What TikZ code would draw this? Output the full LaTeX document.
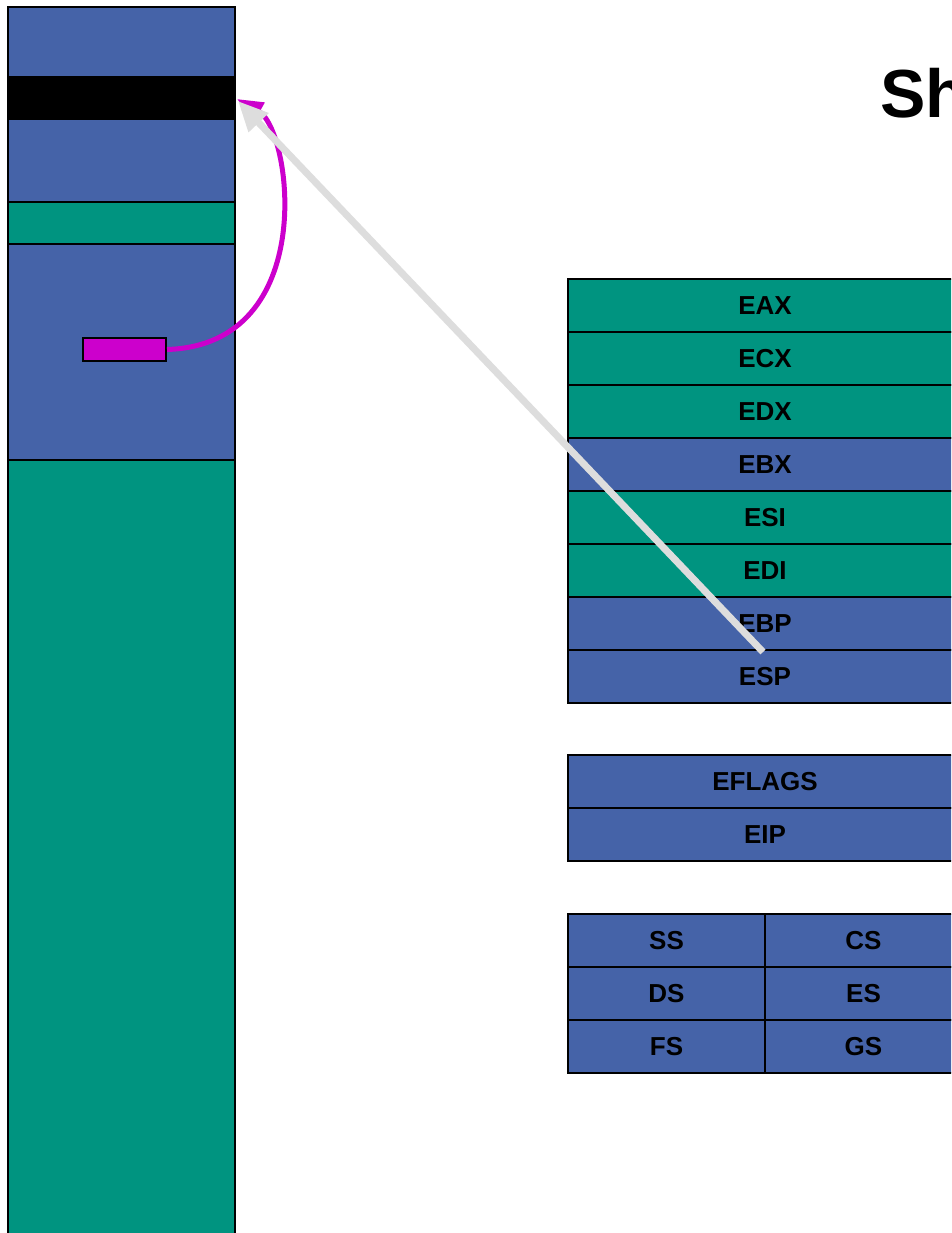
\documentclass[tikz,border=0pt]{standalone}
\usepackage{fontspec}
\usetikzlibrary{arrows.meta}
\newfontfamily\regfont{Liberation Sans}
\definecolor{regblue}{RGB}{69,99,168}
\definecolor{reggreen}{RGB}{0,148,128}
\definecolor{ptrmag}{RGB}{204,0,204}
\definecolor{ptrgrey}{RGB}{221,221,221}
\begin{document}
\begin{tikzpicture}[x=1pt,y=-1pt,
  seg/.style={draw=black, line width=2.5pt, rectangle, inner sep=0pt, outer sep=0pt,
              anchor=north west, minimum width=227pt},
  cell/.style={draw=black, line width=2.5pt, rectangle, inner sep=0pt, outer sep=0pt,
               anchor=north west, minimum height=53pt,
               font=\regfont\bfseries\fontsize{26}{30}\selectfont},
  wide/.style={cell, minimum width=394pt},
  half/.style={cell, minimum width=197pt},
  blue/.style={fill=regblue},
  green/.style={fill=reggreen}]
\useasboundingbox (0,0) rectangle (951,1233);
\clip (0,0) rectangle (951,1233);

% memory stack column
\node[seg, blue,  minimum height=70pt]  (m1) at (8,7)   {};
\node[seg, fill=black, minimum height=42pt] (m2) at (8,77) {};
\node[seg, blue,  minimum height=83pt]  (m3) at (8,119) {};
\node[seg, green, minimum height=42pt]  (m4) at (8,202) {};
\node[seg, blue,  minimum height=216pt] (m5) at (8,244) {};
\node[seg, green, minimum height=860pt] (m6) at (8,460) {};

% pointer held on the stack
\node[draw=black, line width=2pt, fill=ptrmag, rectangle, inner sep=0pt,
      minimum width=83pt, minimum height=23pt, anchor=north west] (ptr) at (82,337) {};

% general purpose registers
\node[wide, green] (eax) at (568,279) {EAX};
\node[wide, green] (ecx) at (568,332) {ECX};
\node[wide, green] (edx) at (568,385) {EDX};
\node[wide, blue]  (ebx) at (568,438) {EBX};
\node[wide, green] (esi) at (568,491) {ESI};
\node[wide, green] (edi) at (568,544) {EDI};
\node[wide, blue]  (ebp) at (568,597) {EBP};
\node[wide, blue]  (esp) at (568,650) {ESP};

% flags and instruction pointer
\node[wide, blue] (eflags) at (568,755) {EFLAGS};
\node[wide, blue] (eip)    at (568,808) {EIP};

% segment registers
\node[half, blue] (ss) at (568,914)  {SS};
\node[half, blue] (cs) at (765,914)  {CS};
\node[half, blue] (ds) at (568,967)  {DS};
\node[half, blue] (es) at (765,967)  {ES};
\node[half, blue] (fs) at (568,1020) {FS};
\node[half, blue] (gs) at (765,1020) {GS};

% title
\node[anchor=base west, inner sep=0pt, font=\regfont\bfseries\fontsize{68}{80}\selectfont]
  (title) at (880,118) {Sh};

% saved pointer referring back up the stack
\coordinate (magtip) at (237,99);
\draw[ptrmag, line width=5pt, -{Triangle[length=26pt,width=20pt]}]
  (ptr.east) .. controls (320,345) and (292,130) .. (magtip);

% stack pointer
\coordinate (espsrc) at (763,652);
\coordinate (greytip) at (238,101);
\draw[ptrgrey, line width=7pt, -{Triangle[length=30pt,width=26pt]}]
  (espsrc) -- (greytip);
\end{tikzpicture}
\end{document}
